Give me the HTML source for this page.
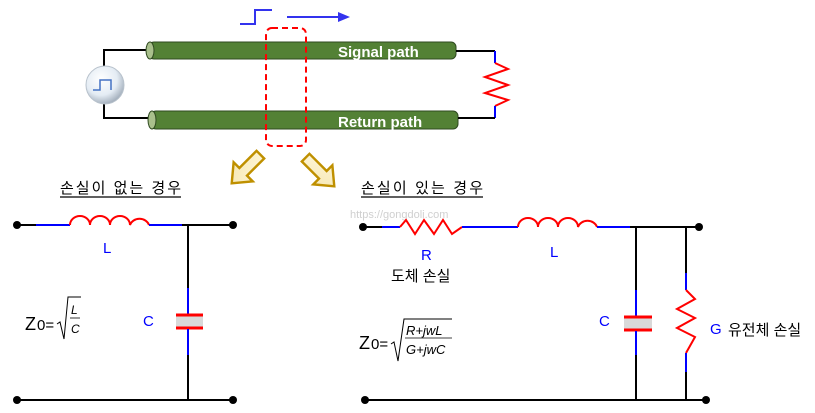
<!DOCTYPE html>
<html><head><meta charset="utf-8"><style>
html,body{margin:0;padding:0;background:#fff;}
svg{display:block;}
text{font-family:"Liberation Sans","Noto Sans CJK KR",sans-serif;}
</style></head><body>
<svg width="815" height="413" viewBox="0 0 815 413" xmlns="http://www.w3.org/2000/svg">
<defs>
<radialGradient id="sph" cx="0.4" cy="0.35" r="0.7">
<stop offset="0" stop-color="#ffffff"/><stop offset="0.6" stop-color="#e4ecf4"/><stop offset="1" stop-color="#9aa6b4"/>
</radialGradient>
<linearGradient id="arr" x1="0" y1="0" x2="1" y2="1"><stop offset="0" stop-color="#fff8dc"/><stop offset="1" stop-color="#f5e6b0"/></linearGradient>
</defs>
<polyline points="240,24 255,24 255,10 272,10" fill="none" stroke="#3333ee" stroke-width="2"/>
<line x1="287" y1="17" x2="340" y2="17" stroke="#3333ee" stroke-width="2"/>
<polygon points="338,12 350,17 338,22" fill="#3333ee"/>
<polyline points="104,66 104,50 149,50" fill="none" stroke="#000" stroke-width="2"/>
<polyline points="104,104 104,118 149,118" fill="none" stroke="#000" stroke-width="2"/>
<rect x="149" y="42" width="307" height="17" rx="5" fill="#538135" stroke="#2f4a20" stroke-width="1"/>
<ellipse cx="150" cy="50.5" rx="4" ry="8.5" fill="#a9c08c" stroke="#2f4a20"/>
<rect x="151" y="111" width="307" height="18" rx="5" fill="#538135" stroke="#2f4a20" stroke-width="1"/>
<ellipse cx="152" cy="120" rx="4" ry="9" fill="#a9c08c" stroke="#2f4a20"/>
<text x="338" y="57" font-size="15" font-weight="bold" fill="#fff">Signal path</text>
<text x="338" y="127" font-size="15" font-weight="bold" fill="#fff">Return path</text>
<circle cx="105" cy="85" r="19" fill="url(#sph)" stroke="#b8c2cc"/>
<polyline points="93,90 100,90 100,80 111,80 111,90" fill="none" stroke="#4472c4" stroke-width="1.5"/>
<polyline points="456,51 495,51" fill="none" stroke="#000" stroke-width="2"/>
<line x1="495" y1="51" x2="495" y2="63" stroke="#00f" stroke-width="2"/>
<polyline points="495,63 508,69 485,77 508,85 485,93 508,100 495,106" fill="none" stroke="#f00" stroke-width="2"/>
<line x1="495" y1="106" x2="495" y2="118" stroke="#00f" stroke-width="2"/>
<line x1="458" y1="118" x2="495" y2="118" stroke="#000" stroke-width="2"/>
<rect x="266" y="28" width="40" height="118" rx="6" fill="none" stroke="#f00" stroke-width="2" stroke-dasharray="6,4"/>
<g transform="translate(247,168) rotate(135) scale(1.35)">
<polygon points="-14,-4 4,-4 4,-10 16,0 4,10 4,4 -14,4" fill="url(#arr)" stroke="#bf9000" stroke-width="1.8"/>
</g>
<g transform="translate(319,171) rotate(45) scale(1.35)">
<polygon points="-14,-4 4,-4 4,-10 16,0 4,10 4,4 -14,4" fill="url(#arr)" stroke="#bf9000" stroke-width="1.8"/>
</g>
<text x="60" y="193" font-size="15" fill="#000" textLength="121">손실이 없는 경우</text>
<line x1="60" y1="197" x2="181" y2="197" stroke="#000" stroke-width="1.2"/>
<text x="361" y="193" font-size="15" fill="#000" textLength="122">손실이 있는 경우</text>
<line x1="361" y1="197" x2="483" y2="197" stroke="#000" stroke-width="1.2"/>
<text x="350" y="218" font-size="11" fill="#d0d0d0">https://gongdoli.com</text>

<line x1="17" y1="225" x2="36" y2="225" stroke="#000" stroke-width="2"/>
<line x1="36" y1="225" x2="70" y2="225" stroke="#00f" stroke-width="2"/>
<path d="M70,225 a10,9 0 0 1 20,0 a10,9 0 0 1 20,0 a10,9 0 0 1 20,0 a10,9 0 0 1 19,0" fill="none" stroke="#f00" stroke-width="2"/>
<line x1="149" y1="225" x2="182" y2="225" stroke="#00f" stroke-width="2"/>
<line x1="182" y1="225" x2="233" y2="225" stroke="#000" stroke-width="2"/>
<line x1="17" y1="400" x2="233" y2="400" stroke="#000" stroke-width="2"/>
<line x1="188" y1="225" x2="188" y2="288" stroke="#000" stroke-width="2"/>
<line x1="188" y1="288" x2="188" y2="314" stroke="#00f" stroke-width="2"/>
<rect x="176" y="315" width="27" height="12" fill="#d9d9d9"/>
<line x1="176" y1="315" x2="203" y2="315" stroke="#f00" stroke-width="3"/>
<line x1="176" y1="328" x2="203" y2="328" stroke="#f00" stroke-width="3"/>
<line x1="188" y1="329" x2="188" y2="355" stroke="#00f" stroke-width="2"/>
<line x1="188" y1="355" x2="188" y2="400" stroke="#000" stroke-width="2"/>
<circle cx="17" cy="225" r="4" fill="#000"/><circle cx="233" cy="225" r="4" fill="#000"/>
<circle cx="17" cy="400" r="4" fill="#000"/><circle cx="233" cy="400" r="4" fill="#000"/>
<text x="103" y="253" font-size="15" fill="#00f">L</text>
<text x="143" y="326" font-size="15" fill="#00f">C</text>
<text x="25" y="330" font-size="18" fill="#000">Z</text><text x="37" y="330" font-size="15" fill="#000">0=</text>
<polyline points="57,324 60,322 64,339 68,297 81,297" fill="none" stroke="#000" stroke-width="1"/>
<line x1="70" y1="318" x2="80" y2="318" stroke="#000" stroke-width="0.8"/>
<text x="71" y="314" font-size="12" font-style="italic" font-family="Liberation Serif">L</text>
<text x="71" y="333" font-size="12" font-style="italic" font-family="Liberation Serif">C</text>

<line x1="363" y1="227" x2="382" y2="227" stroke="#000" stroke-width="2"/>
<line x1="382" y1="227" x2="400" y2="227" stroke="#00f" stroke-width="2"/>
<polyline points="400,227 406,220 415,234 424,220 434,234 443,220 452,234 462,227" fill="none" stroke="#f00" stroke-width="2"/>
<line x1="462" y1="227" x2="518" y2="227" stroke="#00f" stroke-width="2"/>
<path d="M518,227 a10,9 0 0 1 20,0 a10,9 0 0 1 20,0 a10,9 0 0 1 20,0 a10,9 0 0 1 19,0" fill="none" stroke="#f00" stroke-width="2"/>
<line x1="597" y1="227" x2="630" y2="227" stroke="#00f" stroke-width="2"/>
<line x1="630" y1="227" x2="699" y2="227" stroke="#000" stroke-width="2"/>
<line x1="365" y1="400" x2="706" y2="400" stroke="#000" stroke-width="2"/>
<line x1="636" y1="227" x2="636" y2="290" stroke="#000" stroke-width="2"/>
<line x1="636" y1="290" x2="636" y2="316" stroke="#00f" stroke-width="2"/>
<rect x="624" y="317" width="28" height="12" fill="#d9d9d9"/>
<line x1="624" y1="317" x2="652" y2="317" stroke="#f00" stroke-width="3"/>
<line x1="624" y1="330" x2="652" y2="330" stroke="#f00" stroke-width="3"/>
<line x1="636" y1="331" x2="636" y2="355" stroke="#00f" stroke-width="2"/>
<line x1="636" y1="355" x2="636" y2="400" stroke="#000" stroke-width="2"/>
<line x1="686" y1="227" x2="686" y2="273" stroke="#000" stroke-width="2"/>
<line x1="686" y1="273" x2="686" y2="290" stroke="#00f" stroke-width="2"/>
<polyline points="686,290 695,299 677,309 695,318 677,328 695,337 686,353" fill="none" stroke="#f00" stroke-width="2"/>
<line x1="686" y1="353" x2="686" y2="372" stroke="#00f" stroke-width="2"/>
<line x1="686" y1="372" x2="686" y2="400" stroke="#000" stroke-width="2"/>
<circle cx="363" cy="227" r="4" fill="#000"/><circle cx="699" cy="227" r="4" fill="#000"/>
<circle cx="365" cy="400" r="4" fill="#000"/><circle cx="706" cy="400" r="4" fill="#000"/>
<text x="421" y="260" font-size="15" fill="#00f">R</text>
<text x="391" y="281" font-size="15" fill="#000">도체 손실</text>
<text x="550" y="257" font-size="15" fill="#00f">L</text>
<text x="599" y="326" font-size="15" fill="#00f">C</text>
<text x="710" y="334" font-size="15" fill="#00f">G</text>
<text x="728" y="335" font-size="15" fill="#000">유전체 손실</text>
<text x="359" y="349" font-size="18" fill="#000">Z</text><text x="371" y="349" font-size="15" fill="#000">0=</text>
<polyline points="391,344 394,342 398,361 404,319 452,319" fill="none" stroke="#000" stroke-width="1"/>
<line x1="405" y1="338" x2="452" y2="338" stroke="#000" stroke-width="0.8"/>
<text x="406" y="335" font-size="13" font-style="italic" font-family="Liberation Serif">R+jwL</text>
<text x="406" y="354" font-size="13" font-style="italic" font-family="Liberation Serif">G+jwC</text>
</svg>
</body></html>
